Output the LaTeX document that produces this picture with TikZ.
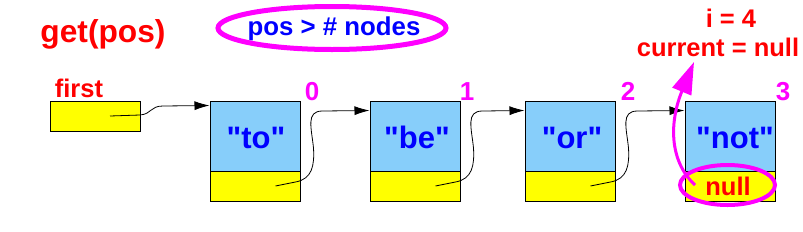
\documentclass[tikz,border=0pt]{standalone}
\usepackage{fontspec}
\setmainfont{Liberation Sans}
\newfontfamily\qfont{Liberation Sans}
\usetikzlibrary{arrows.meta,calc}
\definecolor{lblue}{RGB}{135,206,250}
\definecolor{myyellow}{RGB}{255,255,0}
\definecolor{mymag}{RGB}{255,0,255}
\definecolor{myred}{RGB}{255,0,0}
\definecolor{myblue}{RGB}{0,0,255}
\tikzset{
  databox/.style={draw=black,line width=1pt,fill=lblue,minimum width=90pt,minimum height=70pt,inner sep=0pt},
  ptrbox/.style={draw=black,line width=1pt,fill=myyellow,minimum width=90pt,minimum height=30pt,inner sep=0pt},
  boxtext/.style={anchor=base,text=myblue,font=\qfont\bfseries\fontsize{31}{33}\selectfont,inner sep=0pt},
  redtext/.style={anchor=base,text=myred,font=\bfseries\fontsize{25.5}{27}\selectfont,inner sep=0pt},
  idxtext/.style={anchor=base,text=mymag,font=\bfseries\fontsize{26}{28}\selectfont,inner sep=0pt},
  linkline/.style={draw=black,line width=0.8pt,-{Latex[length=15pt,width=9pt]}},
  hilite/.style={draw=mymag,line width=5pt}
}
\newcommand\nodelink[2]{%
  \draw[linkline] ($(#1.east)+(-25,0)$) -- ($(#1.east)+(-5,-4)$)
    .. controls ($(#1.east)+(12,-7)$) and ($(#1.east)+(14,-21)$) .. ($(#1.east)+(13,-38)$)
    .. controls ($(#1.east)+(11,-58)$) and ($(#1.east)+(5,-75)$) .. ($(#1.east)+(22,-75)$)
    -- ([yshift=-10pt]#2.north west);}
\begin{document}
\begin{tikzpicture}[x=1pt,y=-1pt]
\useasboundingbox (0,0) rectangle (803,231);
% title
\node[anchor=base,text=myred,font=\bfseries\fontsize{31.7}{34}\selectfont,inner sep=0pt] (title) at (103,42) {get(pos)};
% condition ellipse
\node[anchor=base,text=myblue,font=\bfseries\fontsize{25.8}{28}\selectfont,inner sep=0pt] (cond) at (334,35) {pos > \# nodes};
\draw[hilite] (332,28) ellipse [x radius=114, y radius=21.5];
% first pointer
\node[redtext] (firstlbl) at (79,97) {first};
\node[ptrbox] (first) at (95,116) {};
\coordinate (fstart) at (110,116);
% list nodes
\node[databox] (d0) at (255,136) {};
\node[ptrbox]  (p0) at (255,186) {};
\node[databox] (d1) at (415,136) {};
\node[ptrbox]  (p1) at (415,186) {};
\node[databox] (d2) at (570,136) {};
\node[ptrbox]  (p2) at (570,186) {};
\node[databox] (d3) at (730,136) {};
\node[ptrbox]  (p3) at (730,186) {};
\node[boxtext] (t0) at (256,148) {"to"};
\node[boxtext] (t1) at (417,148) {"be"};
\node[boxtext] (t2) at (572,148) {"or"};
\node[boxtext] (t3) at (735,148) {"not"};
% indices
\node[idxtext] (i0) at (312,100) {0};
\node[idxtext] (i1) at (467,100) {1};
\node[idxtext] (i2) at (628,100) {2};
\node[idxtext] (i3) at (783,100) {3};
% links
\draw[linkline] (fstart) -- (140,115) .. controls (152,114) and (150,106) .. (163,106) -- ([yshift=-5pt]d0.north west);
\nodelink{p0}{d1}
\nodelink{p1}{d2}
\nodelink{p2}{d3}
% null
\node[redtext] (nulltxt) at (728,195) {null};
\draw[draw=mymag,line width=4pt] (727.5,185) ellipse [x radius=47.5, y radius=20];
% state text
\node[redtext] (ieq) at (731,27) {i = 4};
\node[redtext] (cur) at (718,56) {current = null};
\coordinate (astart) at (695,185);
\coordinate (atip) at (694,62);
\draw[draw=mymag,line width=3pt,-{Triangle[length=32pt,width=20pt]}] (astart) .. controls (668,160) and (670,120) .. (atip);
\end{tikzpicture}
\end{document}
